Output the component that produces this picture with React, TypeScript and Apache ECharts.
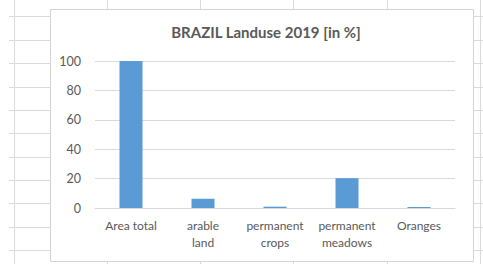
import React, { useEffect, useRef } from "react";
import * as echarts from "echarts";

const categories = ["Area total", "arable\nland", "permanent\ncrops", "permanent\nmeadows", "Oranges"];
const values = [100, 6.3, 0.9, 20.3, 0.7];
const yTicks = [0, 20, 40, 60, 80, 100];
const title = "BRAZIL Landuse 2019 [in %]";

const W = 483;
const H = 264;
const sheetRows = [16, 40, 63, 87, 110, 133, 157, 180, 203, 227, 250];
const sheetCols = [14, 107, 200, 293, 387, 480];

export default function App() {
  const ref = useRef<HTMLDivElement>(null);
  useEffect(() => {
    if (!ref.current) return;
    const chart = echarts.init(ref.current, null, { renderer: "svg" });
    const lineColor = "#dadada";
    const graphics: any[] = [];
    sheetRows.forEach((y) => {
      graphics.push({
        type: "line",
        z: -20,
        shape: { x1: 9, y1: y + 0.5, x2: W, y2: y + 0.5 },
        style: { stroke: lineColor, lineWidth: 1 },
      });
    });
    sheetCols.forEach((x) => {
      graphics.push({
        type: "line",
        z: -20,
        shape: { x1: x + 0.5, y1: 0, x2: x + 0.5, y2: H },
        style: { stroke: lineColor, lineWidth: 1 },
      });
    });
    graphics.push({
      type: "rect",
      z: -10,
      shape: { x: 50.5, y: 9.5, width: 423, height: 252 },
      style: { fill: "#ffffff", stroke: "#d4d4d4", lineWidth: 1 },
    });
    chart.setOption({
      animation: false,
      backgroundColor: "#ffffff",
      textStyle: { fontFamily: "Lato" },
      title: {
        text: title,
        left: 261,
        top: 19,
        textAlign: "center",
        textStyle: { fontFamily: "Lato", fontSize: 15, fontWeight: "bold", color: "#595959" },
      },
      graphic: graphics,
      grid: { left: 95, right: 28, top: 61, bottom: 56, containLabel: false },
      xAxis: {
        type: "category",
        data: categories,
        axisLine: { show: true, lineStyle: { color: "#d9d9d9", width: 1 } },
        axisTick: { show: false },
        axisLabel: { color: "#595959", fontSize: 12, lineHeight: 17, margin: 9, interval: 0, fontFamily: "Lato" },
      },
      yAxis: {
        type: "value",
        min: yTicks[0],
        max: yTicks[yTicks.length - 1],
        interval: 20,
        axisLine: { show: false },
        axisTick: { show: false },
        splitLine: { lineStyle: { color: "#d9d9d9", width: 1 } },
        axisLabel: { color: "#595959", fontSize: 12.5, margin: 14, fontFamily: "Lato" },
      },
      series: [
        {
          type: "bar",
          data: values,
          barWidth: 23,
          itemStyle: { color: "#5b9bd5" },
        },
      ],
    });
    return () => chart.dispose();
  }, []);
  return <div ref={ref} style={{ position: "fixed", left: 0, top: 0, width: W, height: H }} />;
}
